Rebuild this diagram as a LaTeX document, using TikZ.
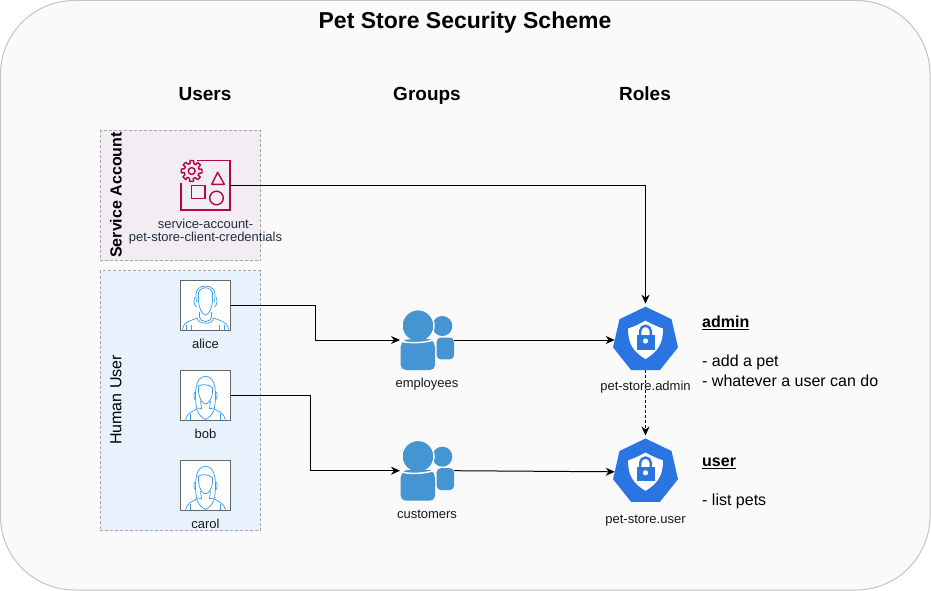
\documentclass[tikz,border=0pt]{standalone}
\usepackage{fontspec}
\setmainfont{Liberation Sans}
\usetikzlibrary{arrows.meta,shapes.geometric}
\definecolor{petback}{HTML}{FAFAFA}
\definecolor{petline}{HTML}{C4C4C4}
\definecolor{saback}{HTML}{F2ECF3}
\definecolor{huback}{HTML}{E7F2FD}
\definecolor{panelline}{HTML}{A6A6A6}
\definecolor{samagenta}{HTML}{B0084D}
\definecolor{satext}{HTML}{232F3E}
\definecolor{userblue}{HTML}{3D9FF0}
\definecolor{groupblue}{HTML}{4495D1}
\definecolor{roleblue}{HTML}{2A75E2}
\definecolor{boxline}{HTML}{666666}
\tikzset{
  titletext/.style={font=\fontsize{23}{26}\bfseries\selectfont, anchor=base},
  headtext/.style={font=\fontsize{19}{22}\bfseries\selectfont, anchor=base},
  sidetext/.style={font=\fontsize{16}{19}\selectfont, rotate=90},
  smalltext/.style={font=\fontsize{13}{15}\selectfont, text=black!90},
  roletext/.style={font=\fontsize{16}{19}\selectfont, anchor=west, inner sep=0pt},
  panel/.style={draw=panelline, dash pattern=on 3pt off 2pt, line width=0.7pt},
  personbox/.style={draw=boxline, line width=1pt, fill=white, minimum size=50pt, inner sep=0pt, outer sep=0pt},
  groupbox/.style={minimum width=54pt, minimum height=60pt, inner sep=0pt, outer sep=0pt},
  rolebox/.style={regular polygon, regular polygon sides=7, fill=roleblue, minimum size=66.6pt, inner sep=0pt, outer sep=0pt},
  link/.style={-{Stealth[length=9pt,width=8pt]}, line width=1pt},
  manicon/.pic={
    \begin{scope}[draw=userblue, line width=0.75pt]
      \draw (-7,-9) .. controls (-9,-20) and (9,-20) .. (7,-9) .. controls (8,2) and (3,10) .. (0,10) .. controls (-3,10) and (-8,2) .. (-7,-9);
      \draw (-9,-3) .. controls (-11,-16) and (-7,-18.7) .. (0,-18.7) .. controls (7,-18.7) and (11,-16) .. (9,-3);
      \draw (-10.5,-8) .. controls (-12,-6) and (-12,0) .. (-9,2);
      \draw (10.5,-8) .. controls (12,-6) and (12,0) .. (9,2);
      \draw (-6,7) -- (-6,12) .. controls (-6,18) and (6,18) .. (6,12) -- (6,7);
      \draw (-8,13) .. controls (-8,20) and (8,20) .. (8,13);
      \draw (-23,24.5) .. controls (-22,17) and (-16,16) .. (-8,13);
      \draw (23,24.5) .. controls (22,17) and (16,16) .. (8,13);
      \draw (-14,20) -- (-14,24.5) (14,20) -- (14,24.5) (-19,20) -- (-19,24.5) (19,20) -- (19,24.5);
    \end{scope}
  },
  womanicon/.pic={
    \begin{scope}[draw=userblue, line width=0.75pt]
      \draw (-7,-9) .. controls (-4,-11) and (4,-11) .. (7,-7) .. controls (8,2) and (3,9) .. (0,9) .. controls (-3,9) and (-8,2) .. (-7,-9);
      \draw (-9,13) .. controls (-11,0) and (-11,-18.7) .. (0,-18.7) .. controls (11,-18.7) and (11,0) .. (9,13);
      \draw (-11,-3) .. controls (-12,-1) and (-12,3) .. (-10,5);
      \draw (11,-3) .. controls (12,-1) and (12,3) .. (10,5);
      \draw (-10,13) -- (-4,13.5) -- (-5,6) (10,13) -- (4,13.5) -- (5,6);
      \draw (-20,24.5) .. controls (-18,18) and (-14,17) .. (-9,14);
      \draw (20,24.5) .. controls (18,18) and (14,17) .. (9,14);
      \draw (-9,14) .. controls (-7,20) and (-3,23) .. (0,24.5) .. controls (3,23) and (7,20) .. (9,14);
      \draw (-15,19) -- (-15,24.5) (15,19) -- (15,24.5);
    \end{scope}
  },
  groupicon/.pic={
    \fill[groupblue, rounded corners=4pt] (9.7,-2.5) -- (27,-2.5) -- (27,19.3) -- (9.7,19.3) -- cycle;
    \fill[groupblue] (15.3,-14) circle (10);
    \draw[petback, line width=1.5pt, fill=groupblue] (-9,-14.3) circle (16);
    \fill[groupblue, rounded corners=5pt] (-26.3,2) .. controls (-20,-1) and (3,-1) .. (8,2) -- (8,30) -- (-26.3,30) -- cycle;
    \draw[petback, line width=1.5pt] (-27,1) .. controls (-18,3.5) and (-2,3.5) .. (8.7,-1);
    \fill[groupblue] (-9,-14.3) circle (15);
  },
  roleicon/.pic={
    \fill[white] (0,-19.3) .. controls (6,-16) and (11,-13.5) .. (17.3,-11.5) .. controls (18,3) and (12,12) .. (0,19) .. controls (-12,12) and (-18,3) .. (-17.3,-11.5) .. controls (-11,-13.5) and (-6,-16) .. (0,-19.3) -- cycle;
    \draw[roleblue, line width=2.4pt] (-5.3,-5) -- (-5.3,-9) arc (180:360:5.3) -- (5.3,-5);
    \fill[roleblue] (-9,-5) rectangle (9,9.5);
    \fill[white] (0,1) circle (2.6);
  },
  gearicon/.pic={
    \foreach \a in {0,45,...,315}
      \draw[samagenta, line width=1.4pt, line join=round]
        (\a-11:10.5) -- (\a+11:10.5) -- (\a+17:7.6) -- (\a+34:7.6) -- (\a+34:10.5);
    \draw[samagenta, line width=1.4pt] (0,0) circle (3.4);
  }
}
\begin{document}
\begin{tikzpicture}[x=1pt, y=-1pt]
  \useasboundingbox (0,0) rectangle (931,591);
  % backdrop
  \fill[white] (0,0) rectangle (931,591);
  \draw[petline, fill=petback, line width=1pt, rounded corners=74pt] (0.5,0.5) rectangle (930,590);
  \node[titletext] (title) at (465,29) {Pet Store Security Scheme};
  \node[headtext] (users) at (205,101) {Users};
  \node[headtext] (groups) at (427,101) {Groups};
  \node[headtext] (roles) at (645,101) {Roles};
  % panels
  \draw[panel, fill=saback] (100,130) rectangle (260.5,260.5);
  \draw[panel, fill=huback] (100,270.5) rectangle (260.5,530.5);
  \node[sidetext] (satext) at (116,195) {\bfseries Service Account};
  \node[sidetext] (hutext) at (116,400) {Human User};
  % service account
  \node[minimum size=49.5pt, inner sep=0pt, outer sep=0pt] (service) at (205.5,185.5) {};
  \draw[samagenta, line width=1.4pt] (196.7,160.7) -- (230,160.7) -- (230,210) -- (181,210) -- (181,183.3);
  \pic at (191.7,171) {gearicon};
  \draw[samagenta, line width=1.4pt, line join=round] (217.7,172.3) -- (224.3,184.3) -- (211.7,184.3) -- cycle;
  \draw[samagenta, line width=1.4pt] (191.7,185.7) rectangle (205,198.5);
  \draw[samagenta, line width=1.4pt] (216.5,198) circle (6.8);
  \node[smalltext, text=satext] (sa1) at (205.5,224) {service-account-};
  \node[smalltext, text=satext] (sa2) at (205.5,238) {pet-store-client-credentials};
  % users
  \node[personbox] (alice) at (205.5,305) {};
  \node[personbox] (bob) at (205.5,395) {};
  \node[personbox] (carol) at (205.5,485) {};
  \pic at (alice) {manicon};
  \pic at (bob) {womanicon};
  \pic at (carol) {womanicon};
  \node[smalltext] (alicetext) at (205.5,344) {alice};
  \node[smalltext] (bobtext) at (205.5,434) {bob};
  \node[smalltext] (caroltext) at (205.5,524) {carol};
  % groups
  \node[groupbox] (employees) at (427,340) {};
  \node[groupbox] (customers) at (427,470.7) {};
  \pic at (employees) {groupicon};
  \pic at (customers) {groupicon};
  \node[smalltext] (emptext) at (427,384.5) {employees};
  \node[smalltext] (custext) at (427,514.5) {customers};
  % roles
  \node[rolebox] (admin) at (645.5,340) {};
  \node[rolebox] (user) at (645.5,471.8) {};
  \pic at (admin) {roleicon};
  \pic at (user) {roleicon};
  \node[smalltext] (admintext) at (645.5,387.5) {pet-store.admin};
  \node[smalltext] (usertext) at (645.5,520.5) {pet-store.user};
  \node[roletext] (adminhead) at (702,323) {\textbf{\underline{admin}}};
  \node[roletext] (adminone) at (702,362) {- add a pet};
  \node[roletext] (admintwo) at (702,381) {- whatever a user can do};
  \node[roletext] (userhead) at (702,463) {\textbf{\underline{user}}};
  \node[roletext] (userone) at (702,501) {- list pets};
  % connectors
  \draw[link, shorten >=3pt] (service.east) -| (admin.north);
  \draw[link] (alice.east) -- ++(84.5,0) |- (employees.west);
  \draw[link] (bob.east) -- ++(79.5,0) |- (customers.west);
  \draw[link] (employees.east) -- (admin.west);
  \draw[link] (customers.east) -- (user.west);
  \draw[link, dash pattern=on 3pt off 2pt, shorten >=3pt] (admin.south) -- (user.north);
\end{tikzpicture}
\end{document}
